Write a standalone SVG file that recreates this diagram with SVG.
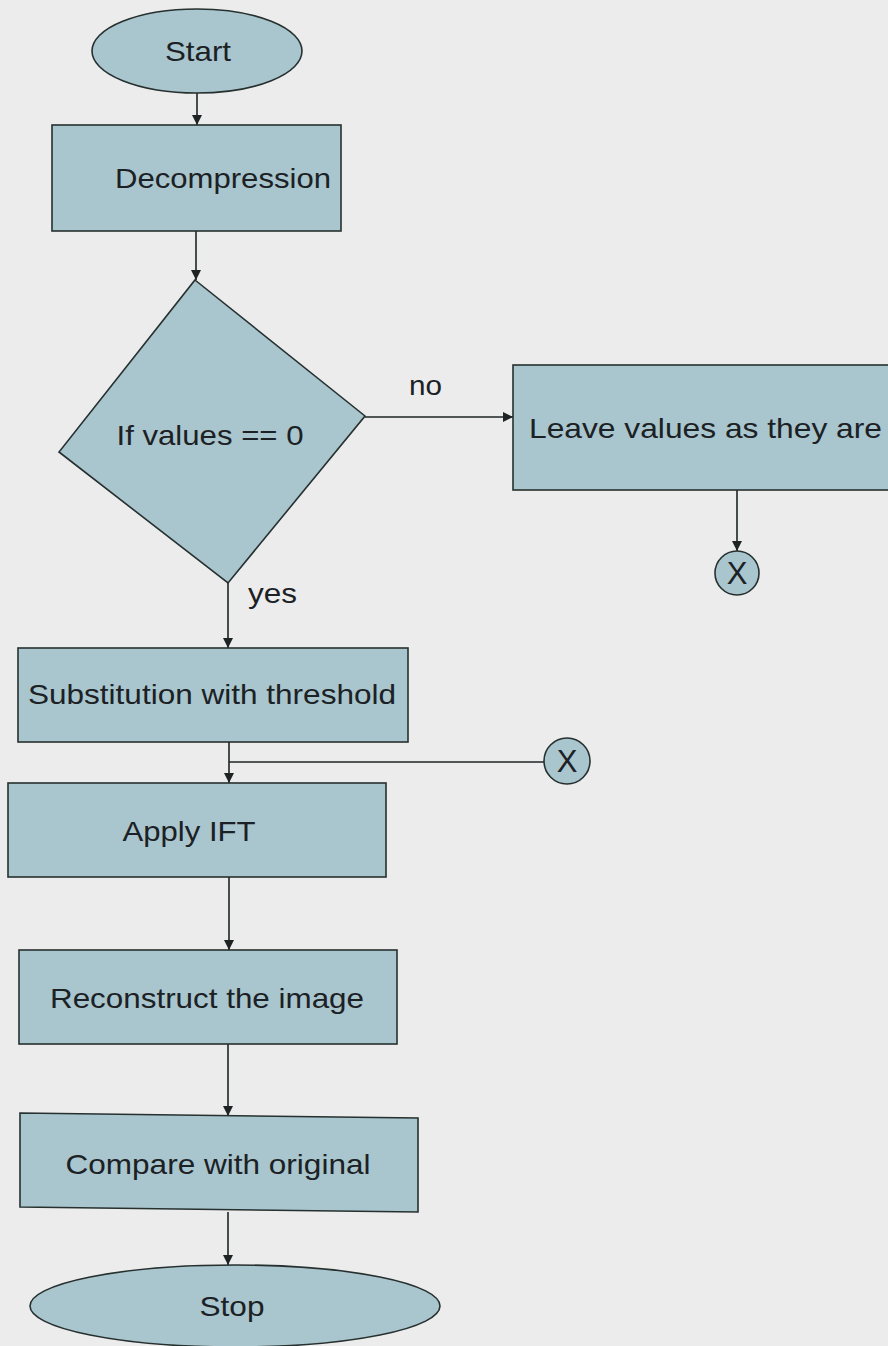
<svg xmlns="http://www.w3.org/2000/svg" width="888" height="1346" viewBox="0 0 888 1346">
<style>
.shape{fill:#a9c5cd;stroke:#26302f;stroke-width:1.6}
.lbl{font-family:"Liberation Sans",Arial,sans-serif;font-size:28px;fill:#1b2124}
.edge{fill:none;stroke:#1e2424;stroke-width:1.6}
</style>
<defs>
<marker id="arr" viewBox="0 0 10 10" refX="10" refY="5" markerWidth="10" markerHeight="10" markerUnits="userSpaceOnUse" orient="auto">
<path d="M0,0 L10,5 L0,10 z" fill="#1e2424"/>
</marker>
</defs>
<rect width="888" height="1346" fill="#ececed"/>
<g id="connectors">
<line class="edge" x1="197" y1="93" x2="197" y2="125" marker-end="url(#arr)"/>
<line class="edge" x1="196" y1="231" x2="196" y2="280" marker-end="url(#arr)"/>
<line class="edge" x1="365" y1="417" x2="513" y2="417" marker-end="url(#arr)"/>
<line class="edge" x1="737" y1="490" x2="737" y2="551" marker-end="url(#arr)"/>
<line class="edge" x1="228" y1="583" x2="228" y2="648" marker-end="url(#arr)"/>
<line class="edge" x1="229" y1="742" x2="229" y2="783" marker-end="url(#arr)"/>
<line class="edge" x1="229" y1="762" x2="545" y2="762"/>
<line class="edge" x1="229" y1="877" x2="229" y2="950" marker-end="url(#arr)"/>
<line class="edge" x1="228" y1="1044" x2="228" y2="1116" marker-end="url(#arr)"/>
<line class="edge" x1="228" y1="1212" x2="228" y2="1265" marker-end="url(#arr)"/>
<text class="lbl" x="409" y="395" textLength="33" lengthAdjust="spacingAndGlyphs">no</text>
<text class="lbl" x="248" y="603" textLength="49" lengthAdjust="spacingAndGlyphs">yes</text>
</g>
<g id="start">
<ellipse class="shape" cx="197" cy="51" rx="105" ry="42"/>
<text class="lbl" x="198" y="61" text-anchor="middle" textLength="66" lengthAdjust="spacingAndGlyphs">Start</text>
</g>
<g id="decompression">
<rect class="shape" x="52" y="125" width="289" height="106"/>
<text class="lbl" x="223" y="188" text-anchor="middle" textLength="216" lengthAdjust="spacingAndGlyphs">Decompression</text>
</g>
<g id="decision">
<polygon class="shape" points="195,280 365,416 228,583 59,452"/>
<text class="lbl" x="210" y="445" text-anchor="middle" textLength="187" lengthAdjust="spacingAndGlyphs">If values == 0</text>
</g>
<g id="leave">
<rect class="shape" x="513" y="365" width="385" height="125"/>
<text class="lbl" x="529" y="438" textLength="353" lengthAdjust="spacingAndGlyphs">Leave values as they are</text>
</g>
<g id="connector-x1">
<circle class="shape" cx="737" cy="573" r="22"/>
<text class="lbl" x="737" y="584" text-anchor="middle" style="font-size:31px">X</text>
</g>
<g id="substitution">
<rect class="shape" x="18" y="648" width="390" height="94"/>
<text class="lbl" x="28" y="704" textLength="368" lengthAdjust="spacingAndGlyphs">Substitution with threshold</text>
</g>
<g id="connector-x2">
<circle class="shape" cx="567" cy="761" r="23"/>
<text class="lbl" x="567" y="772" text-anchor="middle" style="font-size:31px">X</text>
</g>
<g id="apply-ift">
<rect class="shape" x="8" y="783" width="378" height="94"/>
<text class="lbl" x="189" y="841" text-anchor="middle" textLength="133" lengthAdjust="spacingAndGlyphs">Apply IFT</text>
</g>
<g id="reconstruct">
<rect class="shape" x="19" y="950" width="378" height="94"/>
<text class="lbl" x="207" y="1008" text-anchor="middle" textLength="314" lengthAdjust="spacingAndGlyphs">Reconstruct the image</text>
</g>
<g id="compare">
<polygon class="shape" points="20,1113 418,1118 418,1212 20,1207"/>
<text class="lbl" x="218" y="1174" text-anchor="middle" textLength="305" lengthAdjust="spacingAndGlyphs">Compare with original</text>
</g>
<g id="stop">
<ellipse class="shape" cx="235" cy="1306" rx="205" ry="41"/>
<text class="lbl" x="232" y="1316" text-anchor="middle" textLength="65" lengthAdjust="spacingAndGlyphs">Stop</text>
</g>
</svg>
